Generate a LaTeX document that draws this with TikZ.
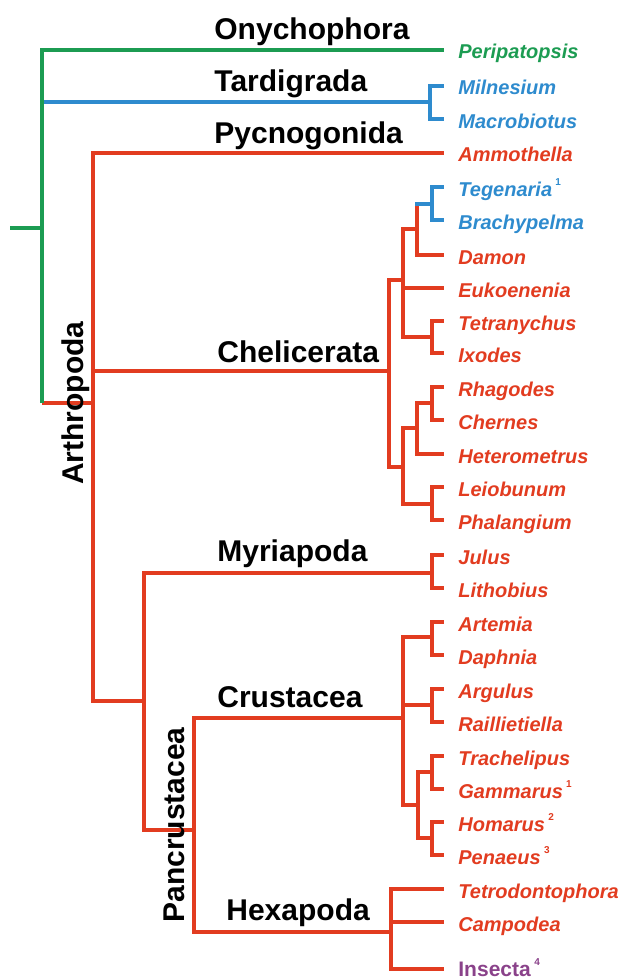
\documentclass[tikz,border=0pt]{standalone}
\usepackage{fontspec}
\setmainfont{Liberation Sans}
\usepackage{tikz}

\definecolor{onyGreen}{RGB}{28,156,82}
\definecolor{tarBlue}{RGB}{46,139,206}
\definecolor{artRed}{RGB}{226,60,32}
\definecolor{insPurple}{RGB}{138,66,138}
\newcommand{\refmark}[1]{\,\raisebox{0.95ex}{\fontsize{5}{5}\selectfont\upshape #1}}

\begin{document}
\begin{tikzpicture}[x=0.5pt, y=-0.5pt,
    branch/.style={line width=2.3pt, line join=miter},
    tip/.style={branch, shorten >=7pt},
    leaf/.style={anchor=west, inner sep=0pt, text height=10pt, text depth=1pt,
                 font=\fontsize{10}{12}\selectfont\bfseries\itshape},
    clade/.style={anchor=base west, inner sep=0pt, font=\fontsize{15}{18}\selectfont\bfseries}]

    \useasboundingbox (0,0) rectangle (619,979);

    % branching points
    \coordinate (stem) at (10,228);
    \coordinate (root) at (42,228);
    \coordinate (tard) at (430,102);
    \coordinate (arth) at (93,403);
    \coordinate (chel) at (389,371);
    \coordinate (chelA) at (403,280);
    \coordinate (chelA1) at (417,229);
    \coordinate (aran) at (432,204);
    \coordinate (acar) at (432,337);
    \coordinate (chelB) at (403,467);
    \coordinate (chelB1) at (417,428);
    \coordinate (chelB2) at (432,403);
    \coordinate (opil) at (432,504);
    \coordinate (mand) at (144,701);
    \coordinate (myri) at (432,573);
    \coordinate (panc) at (194,830);
    \coordinate (crus) at (403,718);
    \coordinate (crus1) at (432,637);
    \coordinate (crus2) at (432,705);
    \coordinate (crus3) at (418,805);
    \coordinate (crus4) at (432,772);
    \coordinate (crus5) at (432,838);
    \coordinate (hexa) at (391,932);

    % taxa
    \node[leaf, onyGreen] (peri) at (458,50) {Peripatopsis};
    \node[leaf, tarBlue] (miln) at (458,86) {Milnesium};
    \node[leaf, tarBlue] (macr) at (458,119) {Macrobiotus};
    \node[leaf, artRed] (ammo) at (458,153) {Ammothella};
    \node[leaf, tarBlue] (tege) at (458,187) {Tegenaria\refmark{1}};
    \node[leaf, tarBlue] (brac) at (458,220) {Brachypelma};
    \node[leaf, artRed] (damo) at (458,255) {Damon};
    \node[leaf, artRed] (euko) at (458,288) {Eukoenenia};
    \node[leaf, artRed] (tetr) at (458,321) {Tetranychus};
    \node[leaf, artRed] (ixod) at (458,353) {Ixodes};
    \node[leaf, artRed] (rhag) at (458,387) {Rhagodes};
    \node[leaf, artRed] (cher) at (458,420) {Chernes};
    \node[leaf, artRed] (hete) at (458,454) {Heterometrus};
    \node[leaf, artRed] (leio) at (458,487) {Leiobunum};
    \node[leaf, artRed] (phal) at (458,520) {Phalangium};
    \node[leaf, artRed] (julu) at (458,555) {Julus};
    \node[leaf, artRed] (lith) at (458,588) {Lithobius};
    \node[leaf, artRed] (arte) at (458,622) {Artemia};
    \node[leaf, artRed] (daph) at (458,655) {Daphnia};
    \node[leaf, artRed] (argu) at (458,689) {Argulus};
    \node[leaf, artRed] (rail) at (458,722) {Raillietiella};
    \node[leaf, artRed] (trac) at (458,756) {Trachelipus};
    \node[leaf, artRed] (gamm) at (458,789) {Gammarus\refmark{1}};
    \node[leaf, artRed] (homa) at (458,822) {Homarus\refmark{2}};
    \node[leaf, artRed] (pena) at (458,855) {Penaeus\refmark{3}};
    \node[leaf, artRed] (tetro) at (458,889) {Tetrodontophora};
    \node[leaf, artRed] (camp) at (458,922) {Campodea};
    \node[leaf, insPurple, text height=7.5pt, text depth=0.5pt,
          font=\fontsize{10.5}{12}\selectfont\bfseries] (inse) at (458,969) {Insecta\refmark{4}};

    % Tardigrada
    \draw[branch, tarBlue] (root |- tard) -- (tard);
    \draw[tip, tarBlue] (tard) |- (miln);
    \draw[tip, tarBlue] (tard) |- (macr);

    % Arthropoda
    \draw[branch, artRed] (root |- arth) -- (arth);
    \draw[tip, artRed] (arth) |- (ammo);
    \draw[branch, artRed] (arth) |- (chel);
    \draw[branch, artRed] (arth) |- (mand);

    % Chelicerata
    \draw[branch, artRed] (chel) |- (chelA);
    \draw[branch, artRed] (chel) |- (chelB);
    \draw[branch, artRed] (chelA) |- (chelA1);
    \draw[tip, artRed] (chelA) |- (euko);
    \draw[branch, artRed] (chelA) |- (acar);
    \draw[branch, artRed] (chelA1) -- (chelA1 |- aran);
    \draw[tip, artRed] (chelA1) |- (damo);
    \draw[branch, tarBlue, line cap=rect] (chelA1 |- aran) -- (aran);
    \draw[tip, tarBlue] (aran) |- (tege);
    \draw[tip, tarBlue] (aran) |- (brac);
    \draw[tip, artRed] (acar) |- (tetr);
    \draw[tip, artRed] (acar) |- (ixod);
    \draw[branch, artRed] (chelB) |- (chelB1);
    \draw[branch, artRed] (chelB) |- (opil);
    \draw[branch, artRed] (chelB1) |- (chelB2);
    \draw[tip, artRed] (chelB1) |- (hete);
    \draw[tip, artRed] (chelB2) |- (rhag);
    \draw[tip, artRed] (chelB2) |- (cher);
    \draw[tip, artRed] (opil) |- (leio);
    \draw[tip, artRed] (opil) |- (phal);

    % Mandibulata
    \draw[branch, artRed] (mand) |- (myri);
    \draw[branch, artRed] (mand) |- (panc);
    \draw[tip, artRed] (myri) |- (julu);
    \draw[tip, artRed] (myri) |- (lith);
    \draw[branch, artRed] (panc) |- (crus);
    \draw[branch, artRed] (panc) |- (hexa);
    \draw[branch, artRed] (crus) |- (crus1);
    \draw[branch, artRed] (crus) |- (crus2);
    \draw[branch, artRed] (crus) |- (crus3);
    \draw[tip, artRed] (crus1) |- (arte);
    \draw[tip, artRed] (crus1) |- (daph);
    \draw[tip, artRed] (crus2) |- (argu);
    \draw[tip, artRed] (crus2) |- (rail);
    \draw[branch, artRed] (crus3) |- (crus4);
    \draw[branch, artRed] (crus3) |- (crus5);
    \draw[tip, artRed] (crus4) |- (trac);
    \draw[tip, artRed] (crus4) |- (gamm);
    \draw[tip, artRed] (crus5) |- (homa);
    \draw[tip, artRed] (crus5) |- (pena);
    \draw[tip, artRed] (hexa) |- (tetro);
    \draw[tip, artRed] (hexa) |- (camp);
    \draw[tip, artRed] (hexa) |- (inse);

    % Onychophora and stem
    \draw[branch, onyGreen] (stem) -- (root);
    \draw[tip, onyGreen] (root |- arth) |- (peri);

    % clade names
    \node[clade] (onyname) at (214,40) {Onychophora};
    \node[clade] (tarname) at (214,92) {Tardigrada};
    \node[clade] (pycname) at (214,143) {Pycnogonida};
    \node[clade] (chename) at (217,362) {Chelicerata};
    \node[clade] (myrname) at (217,561) {Myriapoda};
    \node[clade] (cruname) at (217,707) {Crustacea};
    \node[clade] (hexname) at (226,920) {Hexapoda};
    \node[clade, anchor=base, rotate=90] (arthname) at (83,403) {Arthropoda};
    \node[clade, anchor=base, rotate=90] (pancname) at (184,825) {Pancrustacea};
\end{tikzpicture}
\end{document}
